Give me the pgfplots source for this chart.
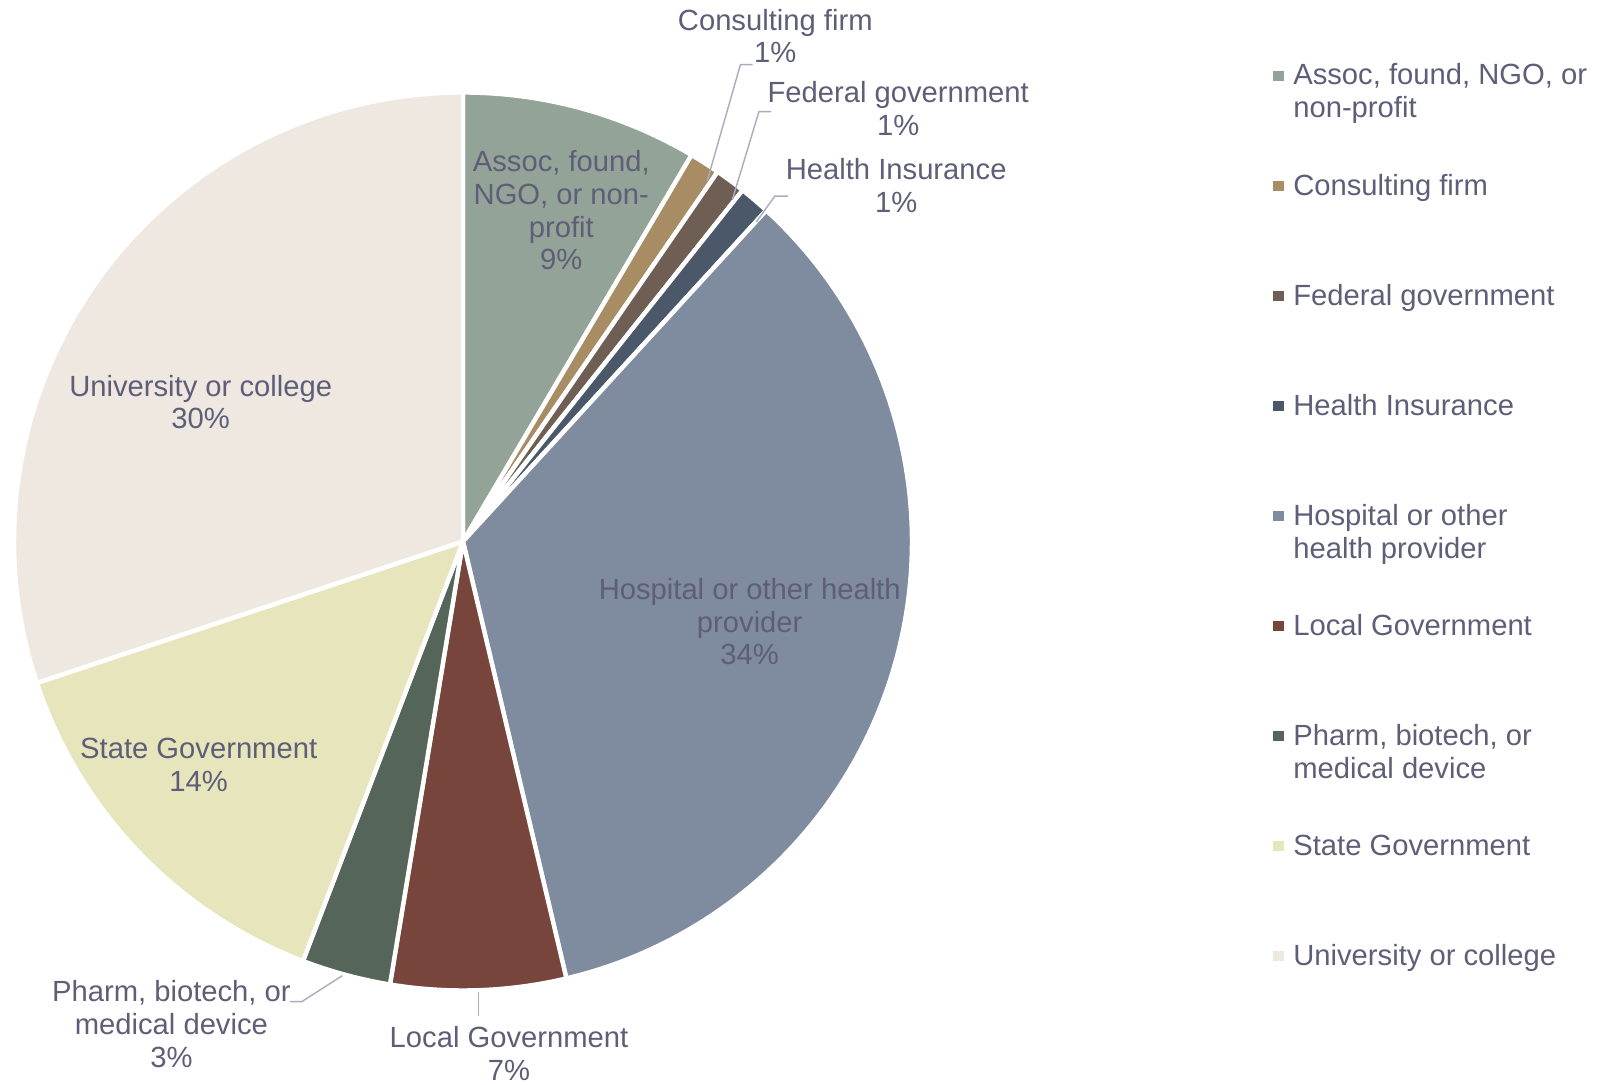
\documentclass[border=0pt]{standalone}
\usepackage{pgfplots}
\pgfplotsset{compat=1.18}
\usepackage{fontspec}
\setmainfont{Liberation Sans}

\definecolor{txt}{RGB}{94,94,120}
\definecolor{lead}{RGB}{170,170,192}
\definecolor{cAssoc}{RGB}{148,163,151}
\definecolor{cCons}{RGB}{168,140,100}
\definecolor{cFed}{RGB}{110,94,84}
\definecolor{cHealth}{RGB}{74,88,106}
\definecolor{cHosp}{RGB}{127,139,158}
\definecolor{cLocal}{RGB}{119,69,60}
\definecolor{cPharm}{RGB}{86,101,90}
\definecolor{cState}{RGB}{230,229,187}
\definecolor{cUniv}{RGB}{238,232,225}

\newcommand{\lfont}{\fontsize{14.6}{16.35}\selectfont}
\newcommand{\legtxt}[2]{\parbox[t]{160pt}{\raggedright\strut #1\\#2\strut}}

% pie geometry (in px of the 1606x1085 picture)
\newcommand{\cx}{463}
\newcommand{\cy}{543.5}
\newcommand{\rr}{449}
\newcommand{\cum}{0}
% #1 = share in percent, #2 = colour, #3 = legend text
\newcommand{\slice}[3]{%
  \pgfmathsetmacro{\angA}{90-3.6*\cum}%
  \pgfmathsetmacro{\newcum}{\cum+#1}%
  \pgfmathsetmacro{\angB}{90-3.6*\newcum}%
  \xdef\cum{\newcum}%
  \edef\temp{\noexpand\addplot[fill=#2, draw=white, line width=2.2pt, line join=round,
     domain=\angB:\angA, samples=90]
     ({\cx+\rr*cos(x)},{\cy+\rr*sin(x)}) -- (axis cs:\cx,\cy) -- cycle;}%
  \temp
  \addlegendentry{#3}%
}

\begin{document}
\begin{tikzpicture}
\begin{axis}[
  width=803pt, height=542.5pt, scale only axis,
  xmin=0, xmax=1606, ymin=0, ymax=1085,
  hide axis, clip=false,
  legend image code/.code={\fill[#1,draw=none] (0pt,2.15pt) rectangle (5.5pt,7.15pt);},
  legend style={at={(axis cs:1272.7,1022.9)}, anchor=north west,
    draw=none, fill=none, inner sep=0pt, outer sep=0pt,
    row sep=42.1pt, column sep=4.8pt, font=\lfont, text=txt,
    cells={anchor=base west}, nodes={inner sep=0pt}},
]
\slice{8.5}{cAssoc}{\legtxt{Assoc, found, NGO, or}{non-profit}}
\slice{1.1}{cCons}{\legtxt{Consulting firm}{}}
\slice{1.1}{cFed}{\legtxt{Federal government}{}}
\slice{1.1}{cHealth}{\legtxt{Health Insurance}{}}
\slice{34.5}{cHosp}{\legtxt{Hospital or other}{health provider}}
\slice{6.3}{cLocal}{\legtxt{Local Government}{}}
\slice{3.2}{cPharm}{\legtxt{Pharm, biotech, or}{medical device}}
\slice{14.1}{cState}{\legtxt{State Government}{}}
\slice{30.1}{cUniv}{\legtxt{University or college}{}}

% leader lines
\draw[lead, line width=0.7pt] (axis cs:707.1,903.7) -- (axis cs:740.4,1020.3) -- (axis cs:752.6,1020.3);
\draw[lead, line width=0.7pt] (axis cs:732.3,885.2) -- (axis cs:758.9,973.3) -- (axis cs:771.1,973.3);
\draw[lead, line width=0.7pt] (axis cs:756.3,863) -- (axis cs:774.8,888.9) -- (axis cs:787.8,888.9);
\draw[lead, line width=0.7pt] (axis cs:342.3,109.3) -- (axis cs:301.7,83.3) -- (axis cs:290,83.3);
\draw[lead, line width=0.7pt] (axis cs:478.3,92.7) -- (axis cs:478.3,68.7);

% data labels
\begin{scope}[every node/.style={align=center, font=\lfont, text=txt, inner sep=0pt}]
\node at (axis cs:561.3,874.5) {Assoc, found,\\NGO, or non-\\profit\\9\%};
\node at (axis cs:749.7,463.3) {Hospital or other health\\provider\\34\%};
\node at (axis cs:200.7,683) {University or college\\30\%};
\node at (axis cs:198.7,320.4) {State Government\\14\%};
\node at (axis cs:775.3,1049.1) {Consulting firm\\1\%};
\node at (axis cs:898.2,976.4) {Federal government\\1\%};
\node at (axis cs:896.2,899.6) {Health Insurance\\1\%};
\node at (axis cs:171.4,60.8) {Pharm, biotech, or\\medical device\\3\%};
\node at (axis cs:509,31.5) {Local Government\\7\%};
\end{scope}
\end{axis}
\pgfresetboundingbox
\path[use as bounding box] (current axis.south west) rectangle (current axis.north east);
\end{tikzpicture}
\end{document}
